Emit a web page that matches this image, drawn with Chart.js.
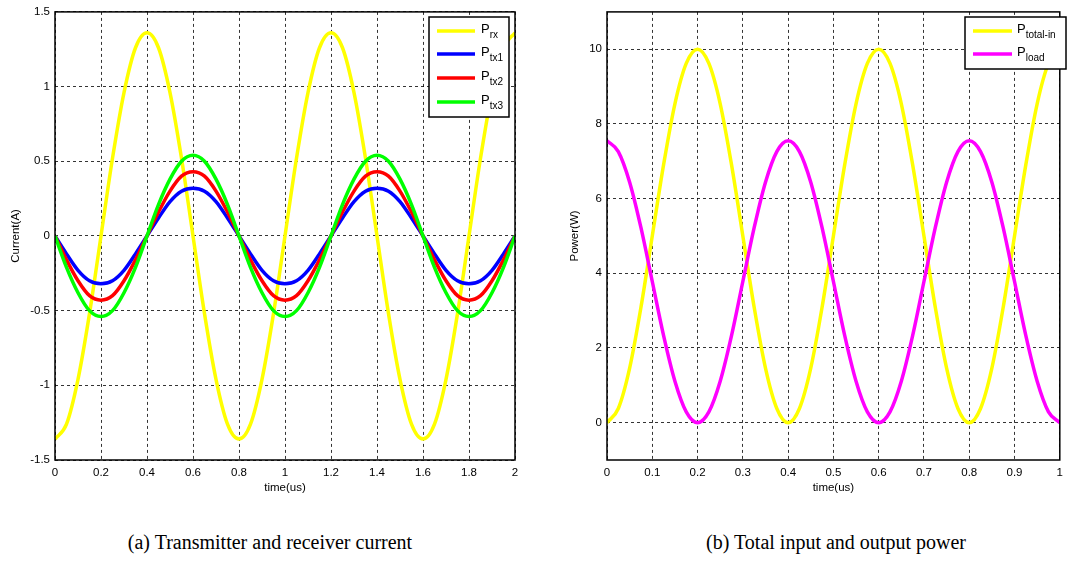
<!DOCTYPE html>
<html><head><meta charset="utf-8">
<script src="https://cdn.jsdelivr.net/npm/chart.js@4"></script>
<style>
html,body{margin:0;padding:0;background:#fff;}
body{width:1069px;height:564px;overflow:hidden;position:relative;font-family:"Liberation Sans",Arial,sans-serif;}
.wrap{position:absolute;top:0;height:500px;}
#wa{left:0;width:535px;}
#wb{left:535px;width:534px;}
.cap{position:absolute;top:531px;font-family:"Liberation Serif","Times New Roman",serif;font-size:20px;white-space:nowrap;transform:translateX(-50%);color:#000;}
</style>
</head><body>
<div class="wrap" id="wa"><canvas id="ca"></canvas></div>
<div class="wrap" id="wb"><canvas id="cb"></canvas></div>
<div class="cap" style="left:270px">(a) Transmitter and receiver current</div>
<div class="cap" style="left:836px">(b) Total input and output power</div>
<script>
// ---------- Chart (a) data ----------
const timeA = [0,0.05,0.1,0.15,0.2,0.25,0.3,0.35,0.4,0.45,0.5,0.55,0.6,0.65,0.7,0.75,0.8,0.85,0.9,0.95,1,1.05,1.1,1.15,1.2,1.25,1.3,1.35,1.4,1.45,1.5,1.55,1.6,1.65,1.7,1.75,1.8,1.85,1.9,1.95,2];
const prx  = [-1.36,-1.26,-0.96,-0.52,0,0.52,0.96,1.26,1.36,1.26,0.96,0.52,0,-0.52,-0.96,-1.26,-1.36,-1.26,-0.96,-0.52,0,0.52,0.96,1.26,1.36,1.26,0.96,0.52,0,-0.52,-0.96,-1.26,-1.36,-1.26,-0.96,-0.52,0,0.52,0.96,1.26,1.36];
const ptx1 = [0,-0.12,-0.23,-0.30,-0.32,-0.30,-0.23,-0.12,0,0.12,0.23,0.30,0.32,0.30,0.23,0.12,0,-0.12,-0.23,-0.30,-0.32,-0.30,-0.23,-0.12,0,0.12,0.23,0.30,0.32,0.30,0.23,0.12,0,-0.12,-0.23,-0.30,-0.32,-0.30,-0.23,-0.12,0];
const ptx2 = [0,-0.16,-0.30,-0.40,-0.43,-0.40,-0.30,-0.16,0,0.16,0.30,0.40,0.43,0.40,0.30,0.16,0,-0.16,-0.30,-0.40,-0.43,-0.40,-0.30,-0.16,0,0.16,0.30,0.40,0.43,0.40,0.30,0.16,0,-0.16,-0.30,-0.40,-0.43,-0.40,-0.30,-0.16,0];
const ptx3 = [0,-0.21,-0.38,-0.50,-0.54,-0.50,-0.38,-0.21,0,0.21,0.38,0.50,0.54,0.50,0.38,0.21,0,-0.21,-0.38,-0.50,-0.54,-0.50,-0.38,-0.21,0,0.21,0.38,0.50,0.54,0.50,0.38,0.21,0,-0.21,-0.38,-0.50,-0.54,-0.50,-0.38,-0.21,0];
const seriesNamesA = ['Prx','Ptx1','Ptx2','Ptx3'];
const legendSubA = ['rx','tx1','tx2','tx3'];
const xTicksA = [0,0.2,0.4,0.6,0.8,1,1.2,1.4,1.6,1.8,2];
const yTicksA = [-1.5,-1,-0.5,0,0.5,1,1.5];

// ---------- Chart (b) data ----------
const timeB = [0,0.025,0.05,0.075,0.1,0.125,0.15,0.175,0.2,0.225,0.25,0.275,0.3,0.325,0.35,0.375,0.4,0.425,0.45,0.475,0.5,0.525,0.55,0.575,0.6,0.625,0.65,0.675,0.7,0.725,0.75,0.775,0.8,0.825,0.85,0.875,0.9,0.925,0.95,0.975,1];
const ptotal = [0,0.38,1.46,3.09,5,6.91,8.54,9.62,10,9.62,8.54,6.91,5,3.09,1.46,0.38,0,0.38,1.46,3.09,5,6.91,8.54,9.62,10,9.62,8.54,6.91,5,3.09,1.46,0.38,0,0.38,1.46,3.09,5,6.91,8.54,9.62,10];
const pload  = [7.55,7.26,6.44,5.22,3.78,2.33,1.11,0.29,0,0.29,1.11,2.33,3.78,5.22,6.44,7.26,7.55,7.26,6.44,5.22,3.78,2.33,1.11,0.29,0,0.29,1.11,2.33,3.78,5.22,6.44,7.26,7.55,7.26,6.44,5.22,3.78,2.33,1.11,0.29,0];
const seriesNamesB = ['Ptotal-in','Pload'];
const legendSubB = ['total-in','load'];
const xTicksB = [0,0.1,0.2,0.3,0.4,0.5,0.6,0.7,0.8,0.9,1];
const yTicksB = [0,2,4,6,8,10];

const colorsA = ['#ffff00','#0000ff','#ff0000','#00ff00'];
const colorsB = ['#ffff00','#ff00ff'];

const FONT = '"Liberation Sans", Arial, sans-serif';

const framePlugin = {
  id: 'frameLegend',
  afterDraw(chart, args, o) {
    const ctx = chart.ctx, a = chart.chartArea;
    ctx.save();
    ctx.setLineDash([]);
    ctx.strokeStyle = '#000';
    ctx.lineWidth = 1.5;
    ctx.strokeRect(a.left, a.top, a.right - a.left, a.bottom - a.top);
    const b = o.box;
    ctx.fillStyle = '#fff';
    ctx.fillRect(b.x, b.y, b.w, b.h);
    ctx.lineWidth = 1.5;
    ctx.strokeRect(b.x, b.y, b.w, b.h);
    chart.data.datasets.forEach((ds, i) => {
      const y = o.rowY[i];
      ctx.strokeStyle = ds.borderColor;
      ctx.lineWidth = 3.5;
      ctx.beginPath();
      ctx.moveTo(o.lineX0, y);
      ctx.lineTo(o.lineX1, y);
      ctx.stroke();
      ctx.fillStyle = '#000';
      ctx.textBaseline = 'middle';
      ctx.textAlign = 'left';
      ctx.font = '13px ' + FONT;
      ctx.fillText('P', o.textX, y - 2);
      const pw = ctx.measureText('P').width;
      ctx.font = '10px ' + FONT;
      ctx.fillText(o.subs[i], o.textX + pw, y + 4);
    });
    ctx.restore();
  }
};

function makeDatasets(xs, ys, names, colors) {
  return ys.map((arr, i) => ({
    label: names[i],
    data: xs.map((x, j) => ({x: x, y: arr[j]})),
    borderColor: colors[i],
    backgroundColor: colors[i],
    borderWidth: 3.5,
    pointRadius: 0,
    fill: false,
    cubicInterpolationMode: 'monotone',
    order: ys.length - i
  }));
}

function fmt(v) { return String(Math.round(v * 1000) / 1000); }

function makeOptions(cfg) {
  return {
    responsive: true,
    maintainAspectRatio: false,
    animation: false,
    layout: {padding: {left: 0, top: 10, right: cfg.padRight, bottom: 0}},
    plugins: {
      legend: {display: false},
      tooltip: {enabled: false},
      frameLegend: cfg.legend
    },
    scales: {
      x: {
        type: 'linear',
        min: cfg.xMin, max: cfg.xMax,
        afterBuildTicks: s => { s.ticks = cfg.xTicks.map(v => ({value: v})); },
        afterFit: s => { s.height = 40; },
        ticks: {color: '#000', font: {family: FONT, size: 11.5}, padding: 6, maxRotation: 0, autoSkip: false, callback: v => fmt(v)},
        grid: {color: '#000', lineWidth: 0.8, drawTicks: false, tickLength: 0},
        border: {display: false, dash: [3, 3]},
        title: {display: true, text: 'time(us)', color: '#000', font: {family: FONT, size: 11.5}, padding: {top: 0, bottom: 5}}
      },
      y: {
        type: 'linear',
        min: cfg.yMin, max: cfg.yMax,
        afterBuildTicks: s => { s.ticks = cfg.yTicks.map(v => ({value: v})); },
        afterFit: s => { s.width = cfg.yWidth; },
        ticks: {color: '#000', font: {family: FONT, size: 11.5}, padding: 5, autoSkip: false, callback: v => fmt(v)},
        grid: {color: '#000', lineWidth: 0.8, drawTicks: false, tickLength: 0},
        border: {display: false, dash: [3, 3]},
        title: {display: true, text: cfg.yTitle, color: '#000', font: {family: FONT, size: 11.5}, padding: {top: cfg.yTitlePad, bottom: 0}}
      }
    }
  };
}

new Chart(document.getElementById('ca'), {
  type: 'line',
  data: {datasets: makeDatasets(timeA, [prx, ptx1, ptx2, ptx3], seriesNamesA, colorsA)},
  options: makeOptions({
    padRight: 20, xMin: 0, xMax: 2, yMin: -1.5, yMax: 1.5,
    xTicks: xTicksA, yTicks: yTicksA, yWidth: 55, yTitle: 'Current(A)', yTitlePad: 9,
    legend: {box: {x: 429, y: 17, w: 80, h: 100}, lineX0: 437, lineX1: 475, textX: 481, rowY: [31, 54, 78, 102], subs: legendSubA}
  }),
  plugins: [framePlugin]
});

new Chart(document.getElementById('cb'), {
  type: 'line',
  data: {datasets: makeDatasets(timeB, [ptotal, pload], seriesNamesB, colorsB)},
  options: makeOptions({
    padRight: 3, xMin: 0, xMax: 1, yMin: -1, yMax: 11,
    xTicks: xTicksB, yTicks: yTicksB, yWidth: 72, yTitle: 'Power(W)', yTitlePad: 33,
    legend: {box: {x: 430, y: 17, w: 101, h: 52}, lineX0: 438, lineX1: 477, textX: 482, rowY: [31, 54], subs: legendSubB}
  }),
  plugins: [framePlugin]
});
</script>
</body></html>
